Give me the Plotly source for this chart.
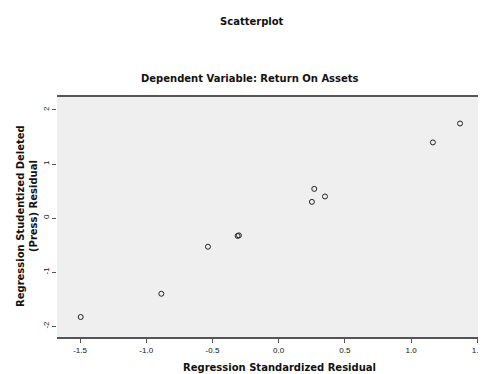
import plotly.graph_objects as go

# Data
std_resid = [-1.495, -0.886, -0.534, -0.310, -0.300, 0.251, 0.269, 0.350, 1.165, 1.370]
stud_del_resid = [-1.83, -1.40, -0.53, -0.33, -0.32, 0.30, 0.54, 0.40, 1.40, 1.75]

x_tickvals = [-1.5, -1.0, -0.5, 0.0, 0.5, 1.0, 1.5]
x_ticktext = ["-1.5", "-1.0", "-0.5", "0.0", "0.5", "1.0", "1.5"]
y_tickvals = [-2, -1, 0, 1, 2]
y_ticktext = ["-2", "-1", "0", "1", "2"]

FONT = "Liberation Sans, Arial, sans-serif"
TFONT = "DejaVu Sans, Verdana, sans-serif"

# The page body has an 8px margin, so the figure is sized/offset accordingly.
W, H = 478, 366
L, R, T, B = 49, 2, 89, 37

fig = go.Figure()
fig.add_trace(go.Scatter(
    x=std_resid, y=stud_del_resid, mode="markers",
    marker=dict(symbol="circle-open", size=5, color="#222222", line=dict(width=1)),
    showlegend=False, hoverinfo="skip",
))

fig.update_layout(
    width=W, height=H,
    margin=dict(l=L, r=R, t=T, b=B),
    paper_bgcolor="white", plot_bgcolor="#efefef",
    font=dict(family=FONT, size=8, color="#111111"),
)

def px_x(px):  # page px -> paper
    return (px - 8 - L) / (W - L - R)

def px_y(py):
    return (H - B - (py - 8)) / (H - T - B)

def ann(text, x, y, size=10, angle=0):
    fig.add_annotation(text=text, x=px_x(x), y=px_y(y), xref="paper", yref="paper",
                       showarrow=False, font=dict(size=size, family=TFONT), textangle=angle,
                       xanchor="center", yanchor="middle")

ann("<b>Scatterplot</b>", 252, 21)
ann("<b>Dependent Variable: Return On Assets</b>", 250, 78)
ann("<b>Regression Standardized Residual</b>", 279, 367)
ann("<b>Regression Studentized Deleted</b>", 20, 216, angle=-90)
ann("<b>(Press) Residual</b>", 33, 206, angle=-90)

fig.update_xaxes(
    range=[-1.674, 1.551], tickvals=x_tickvals, ticktext=x_ticktext,
    showgrid=False, zeroline=False, showline=True, mirror=True,
    linecolor="#555555", linewidth=2, ticks="outside", ticklen=4,
    tickcolor="#555555", tickfont=dict(size=8),
)
fig.update_yaxes(
    range=[-2.2, 2.24], tickvals=y_tickvals, ticktext=y_ticktext,
    showgrid=False, zeroline=False, showline=False,
    ticks="outside", ticklen=4, tickcolor="#555555",
    tickangle=-90, tickfont=dict(size=8),
)

fig.write_html("out.html")
